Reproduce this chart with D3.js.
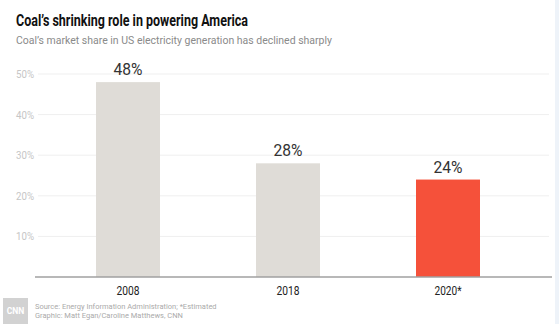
<!DOCTYPE html>
<html>
<head>
<meta charset="utf-8">
<script src="https://cdn.jsdelivr.net/npm/d3@7"></script>
<style>
  body { margin: 0; background: #fff; }
  svg { display: block; }
  text { font-family: Roboto, sans-serif; }
</style>
</head>
<body>
<div id="chart"></div>
<script>
// data
const years = ["2008", "2018", "2020*"];
const shares = [48, 28, 24];
const yTicks = [10, 20, 30, 40, 50];

const W = 559, H = 324;
const svg = d3.select("#chart").append("svg")
    .attr("width", W)
    .attr("height", H);

// faint frame strip on the right
svg.append("rect")
    .attr("x", 555).attr("y", 0)
    .attr("width", 4).attr("height", H)
    .attr("fill", "#eef3f9");

// title + subtitle (narrow face: squeeze Roboto)
svg.append("text")
    .attr("x", 16).attr("y", 26)
    .attr("font-size", 16).attr("font-weight", "bold")
    .attr("fill", "#111")
    .attr("textLength", 232).attr("lengthAdjust", "spacingAndGlyphs")
    .text("Coal\u2019s shrinking role in powering America");
svg.append("text")
    .attr("x", 16).attr("y", 44)
    .attr("font-size", 11.5)
    .attr("fill", "#8a8a8a")
    .attr("textLength", 316).attr("lengthAdjust", "spacingAndGlyphs")
    .text("Coal\u2019s market share in US electricity generation has declined sharply");

const x = d3.scaleBand()
    .domain(years)
    .range([48, 528])
    .paddingInner(0.6)
    .paddingOuter(0.3);

const y = d3.scaleLinear()
    .domain([0, 50])
    .range([277, 74]);

// gridlines
svg.append("g")
    .selectAll("line")
    .data(yTicks)
    .join("line")
    .attr("x1", 38).attr("x2", 549)
    .attr("y1", d => y(d)).attr("y2", d => y(d))
    .attr("stroke", "#efefef");

// y tick labels
svg.append("g")
    .selectAll("text")
    .data(yTicks)
    .join("text")
    .attr("x", 34)
    .attr("y", d => y(d) + 4)
    .attr("text-anchor", "end")
    .attr("font-size", 10)
    .attr("fill", "#c6c6c6")
    .attr("textLength", 18).attr("lengthAdjust", "spacingAndGlyphs")
    .text(d => d + "%");

// bars
svg.append("g")
    .selectAll("rect")
    .data(shares)
    .join("rect")
    .attr("x", (d, i) => x(years[i]))
    .attr("width", x.bandwidth())
    .attr("y", d => y(d))
    .attr("height", d => y(0) - y(d))
    .attr("fill", (d, i) => i === years.length - 1 ? "#f5513a" : "#dfdcd7");

// value labels
svg.append("g")
    .selectAll("text")
    .data(shares)
    .join("text")
    .attr("x", (d, i) => x(years[i]) + x.bandwidth() / 2)
    .attr("y", d => y(d) - 7)
    .attr("text-anchor", "middle")
    .attr("font-size", 16.5)
    .attr("fill", "#333")
    .attr("textLength", 29).attr("lengthAdjust", "spacingAndGlyphs")
    .text(d => d + "%");

// baseline
svg.append("line")
    .attr("x1", 35).attr("x2", 552)
    .attr("y1", y(0)).attr("y2", y(0))
    .attr("stroke", "#a0a0a0").attr("stroke-width", 1.5);

// x labels
const xAxis = svg.append("g")
    .attr("transform", `translate(0,${y(0)})`)
    .call(d3.axisBottom(x).tickSize(0).tickPadding(9));
xAxis.select(".domain").remove();
xAxis.selectAll("text")
    .attr("font-family", "Roboto, sans-serif")
    .attr("font-size", 12)
    .attr("fill", "#222")
    .attr("textLength", d => d.length > 4 ? 27 : 23)
    .attr("lengthAdjust", "spacingAndGlyphs");

// footer
svg.append("rect")
    .attr("x", 3).attr("y", 298)
    .attr("width", 25).attr("height", 26)
    .attr("fill", "#d2d2d2");
svg.append("text")
    .attr("x", 15.5).attr("y", 314)
    .attr("text-anchor", "middle")
    .attr("font-size", 8.5).attr("font-weight", "bold")
    .attr("fill", "#fff")
    .text("CNN");
svg.append("text")
    .attr("x", 35).attr("y", 309)
    .attr("font-size", 7.5)
    .attr("fill", "#aaa")
    .text("Source: Energy Information Administration; *Estimated");
svg.append("text")
    .attr("x", 35).attr("y", 318)
    .attr("font-size", 7.5)
    .attr("fill", "#aaa")
    .text("Graphic: Matt Egan/Caroline Matthews, CNN");
</script>
</body>
</html>
